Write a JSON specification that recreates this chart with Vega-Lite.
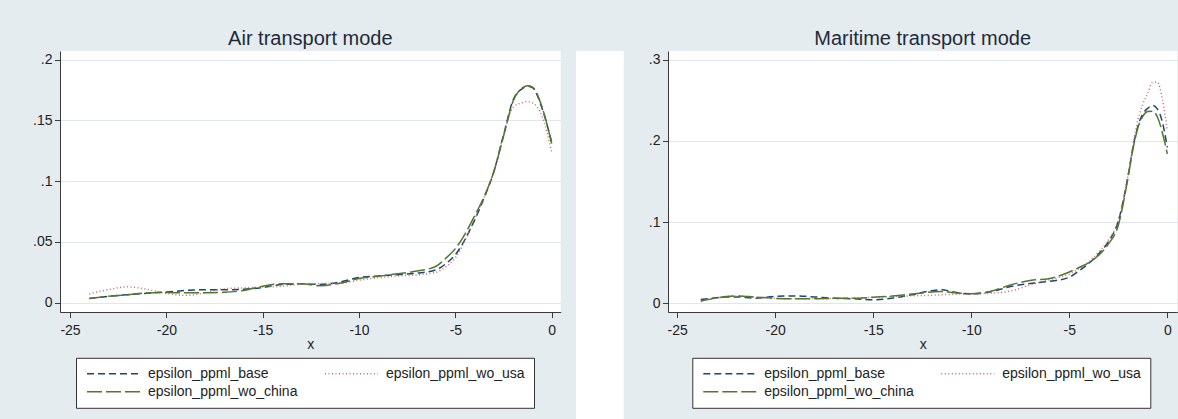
{
  "$schema": "https://vega.github.io/schema/vega-lite/v6.json",
  "background": "#E5ECF0",
  "padding": 0,
  "spacing": 0,
  "datasets": {
    "air": [
      {"x": -24, "epsilon_ppml_base": 0.0035, "epsilon_ppml_wo_usa": 0.0072, "epsilon_ppml_wo_china": 0.0035},
      {"x": -23, "epsilon_ppml_base": 0.0052, "epsilon_ppml_wo_usa": 0.0108, "epsilon_ppml_wo_china": 0.0052},
      {"x": -22, "epsilon_ppml_base": 0.0066, "epsilon_ppml_wo_usa": 0.0130, "epsilon_ppml_wo_china": 0.0066},
      {"x": -21, "epsilon_ppml_base": 0.0078, "epsilon_ppml_wo_usa": 0.0110, "epsilon_ppml_wo_china": 0.0080},
      {"x": -20, "epsilon_ppml_base": 0.0088, "epsilon_ppml_wo_usa": 0.0075, "epsilon_ppml_wo_china": 0.0083},
      {"x": -19, "epsilon_ppml_base": 0.0100, "epsilon_ppml_wo_usa": 0.0060, "epsilon_ppml_wo_china": 0.0082},
      {"x": -18, "epsilon_ppml_base": 0.0107, "epsilon_ppml_wo_usa": 0.0080, "epsilon_ppml_wo_china": 0.0082},
      {"x": -17, "epsilon_ppml_base": 0.0106, "epsilon_ppml_wo_usa": 0.0115, "epsilon_ppml_wo_china": 0.0085},
      {"x": -16, "epsilon_ppml_base": 0.0110, "epsilon_ppml_wo_usa": 0.0122, "epsilon_ppml_wo_china": 0.0100},
      {"x": -15, "epsilon_ppml_base": 0.0125, "epsilon_ppml_wo_usa": 0.0128, "epsilon_ppml_wo_china": 0.0135},
      {"x": -14, "epsilon_ppml_base": 0.0150, "epsilon_ppml_wo_usa": 0.0135, "epsilon_ppml_wo_china": 0.0155},
      {"x": -13, "epsilon_ppml_base": 0.0155, "epsilon_ppml_wo_usa": 0.0152, "epsilon_ppml_wo_china": 0.0155},
      {"x": -12, "epsilon_ppml_base": 0.0150, "epsilon_ppml_wo_usa": 0.0157, "epsilon_ppml_wo_china": 0.0140},
      {"x": -11, "epsilon_ppml_base": 0.0170, "epsilon_ppml_wo_usa": 0.0160, "epsilon_ppml_wo_china": 0.0160},
      {"x": -10, "epsilon_ppml_base": 0.0207, "epsilon_ppml_wo_usa": 0.0185, "epsilon_ppml_wo_china": 0.0198},
      {"x": -9, "epsilon_ppml_base": 0.0220, "epsilon_ppml_wo_usa": 0.0205, "epsilon_ppml_wo_china": 0.0217},
      {"x": -8, "epsilon_ppml_base": 0.0230, "epsilon_ppml_wo_usa": 0.0220, "epsilon_ppml_wo_china": 0.0238},
      {"x": -7, "epsilon_ppml_base": 0.0243, "epsilon_ppml_wo_usa": 0.0228, "epsilon_ppml_wo_china": 0.0260},
      {"x": -6, "epsilon_ppml_base": 0.0270, "epsilon_ppml_wo_usa": 0.0250, "epsilon_ppml_wo_china": 0.0300},
      {"x": -5.5, "epsilon_ppml_base": 0.0320, "epsilon_ppml_wo_usa": 0.0295, "epsilon_ppml_wo_china": 0.0365},
      {"x": -5, "epsilon_ppml_base": 0.0395, "epsilon_ppml_wo_usa": 0.0370, "epsilon_ppml_wo_china": 0.0445},
      {"x": -4.5, "epsilon_ppml_base": 0.0520, "epsilon_ppml_wo_usa": 0.0510, "epsilon_ppml_wo_china": 0.0565},
      {"x": -4, "epsilon_ppml_base": 0.0680, "epsilon_ppml_wo_usa": 0.0690, "epsilon_ppml_wo_china": 0.0715},
      {"x": -3.5, "epsilon_ppml_base": 0.0865, "epsilon_ppml_wo_usa": 0.0870, "epsilon_ppml_wo_china": 0.0875},
      {"x": -3, "epsilon_ppml_base": 0.1080, "epsilon_ppml_wo_usa": 0.1085, "epsilon_ppml_wo_china": 0.1080},
      {"x": -2.5, "epsilon_ppml_base": 0.1380, "epsilon_ppml_wo_usa": 0.1380, "epsilon_ppml_wo_china": 0.1370},
      {"x": -2, "epsilon_ppml_base": 0.1670, "epsilon_ppml_wo_usa": 0.1610, "epsilon_ppml_wo_china": 0.1660},
      {"x": -1.5, "epsilon_ppml_base": 0.1765, "epsilon_ppml_wo_usa": 0.1648, "epsilon_ppml_wo_china": 0.1770},
      {"x": -1.25, "epsilon_ppml_base": 0.1782, "epsilon_ppml_wo_usa": 0.1655, "epsilon_ppml_wo_china": 0.1785},
      {"x": -1, "epsilon_ppml_base": 0.1770, "epsilon_ppml_wo_usa": 0.1645, "epsilon_ppml_wo_china": 0.1775},
      {"x": -0.5, "epsilon_ppml_base": 0.1600, "epsilon_ppml_wo_usa": 0.1535, "epsilon_ppml_wo_china": 0.1610},
      {"x": 0, "epsilon_ppml_base": 0.1320, "epsilon_ppml_wo_usa": 0.1240, "epsilon_ppml_wo_china": 0.1310}
    ],
    "sea": [
      {"x": -23.8, "epsilon_ppml_base": 0.0046, "epsilon_ppml_wo_usa": 0.0030, "epsilon_ppml_wo_china": 0.0025},
      {"x": -23, "epsilon_ppml_base": 0.0068, "epsilon_ppml_wo_usa": 0.0065, "epsilon_ppml_wo_china": 0.0065},
      {"x": -22.5, "epsilon_ppml_base": 0.0078, "epsilon_ppml_wo_usa": 0.0082, "epsilon_ppml_wo_china": 0.0082},
      {"x": -22, "epsilon_ppml_base": 0.0078, "epsilon_ppml_wo_usa": 0.0090, "epsilon_ppml_wo_china": 0.0090},
      {"x": -21, "epsilon_ppml_base": 0.0062, "epsilon_ppml_wo_usa": 0.0075, "epsilon_ppml_wo_china": 0.0076},
      {"x": -20, "epsilon_ppml_base": 0.0084, "epsilon_ppml_wo_usa": 0.0060, "epsilon_ppml_wo_china": 0.0060},
      {"x": -19, "epsilon_ppml_base": 0.0090, "epsilon_ppml_wo_usa": 0.0054, "epsilon_ppml_wo_china": 0.0054},
      {"x": -18, "epsilon_ppml_base": 0.0078, "epsilon_ppml_wo_usa": 0.0055, "epsilon_ppml_wo_china": 0.0055},
      {"x": -17, "epsilon_ppml_base": 0.0060, "epsilon_ppml_wo_usa": 0.0058, "epsilon_ppml_wo_china": 0.0060},
      {"x": -16, "epsilon_ppml_base": 0.0055, "epsilon_ppml_wo_usa": 0.0062, "epsilon_ppml_wo_china": 0.0060},
      {"x": -15, "epsilon_ppml_base": 0.0042, "epsilon_ppml_wo_usa": 0.0072, "epsilon_ppml_wo_china": 0.0075},
      {"x": -14, "epsilon_ppml_base": 0.0064, "epsilon_ppml_wo_usa": 0.0082, "epsilon_ppml_wo_china": 0.0090},
      {"x": -13, "epsilon_ppml_base": 0.0105, "epsilon_ppml_wo_usa": 0.0092, "epsilon_ppml_wo_china": 0.0115},
      {"x": -12, "epsilon_ppml_base": 0.0155, "epsilon_ppml_wo_usa": 0.0098, "epsilon_ppml_wo_china": 0.0138},
      {"x": -11.5, "epsilon_ppml_base": 0.0165, "epsilon_ppml_wo_usa": 0.0104, "epsilon_ppml_wo_china": 0.0145},
      {"x": -11, "epsilon_ppml_base": 0.0142, "epsilon_ppml_wo_usa": 0.0110, "epsilon_ppml_wo_china": 0.0132},
      {"x": -10, "epsilon_ppml_base": 0.0115, "epsilon_ppml_wo_usa": 0.0115, "epsilon_ppml_wo_china": 0.0118},
      {"x": -9, "epsilon_ppml_base": 0.0142, "epsilon_ppml_wo_usa": 0.0122, "epsilon_ppml_wo_china": 0.0148},
      {"x": -8, "epsilon_ppml_base": 0.0205, "epsilon_ppml_wo_usa": 0.0150, "epsilon_ppml_wo_china": 0.0225},
      {"x": -7, "epsilon_ppml_base": 0.0243, "epsilon_ppml_wo_usa": 0.0225, "epsilon_ppml_wo_china": 0.0280},
      {"x": -6, "epsilon_ppml_base": 0.0270, "epsilon_ppml_wo_usa": 0.0290, "epsilon_ppml_wo_china": 0.0305},
      {"x": -5, "epsilon_ppml_base": 0.0320, "epsilon_ppml_wo_usa": 0.0360, "epsilon_ppml_wo_china": 0.0385},
      {"x": -4.5, "epsilon_ppml_base": 0.0400, "epsilon_ppml_wo_usa": 0.0425, "epsilon_ppml_wo_china": 0.0440},
      {"x": -4, "epsilon_ppml_base": 0.0490, "epsilon_ppml_wo_usa": 0.0510, "epsilon_ppml_wo_china": 0.0500},
      {"x": -3.5, "epsilon_ppml_base": 0.0610, "epsilon_ppml_wo_usa": 0.0630, "epsilon_ppml_wo_china": 0.0590},
      {"x": -3, "epsilon_ppml_base": 0.0760, "epsilon_ppml_wo_usa": 0.0780, "epsilon_ppml_wo_china": 0.0730},
      {"x": -2.5, "epsilon_ppml_base": 0.1010, "epsilon_ppml_wo_usa": 0.1020, "epsilon_ppml_wo_china": 0.0960},
      {"x": -2, "epsilon_ppml_base": 0.1570, "epsilon_ppml_wo_usa": 0.1580, "epsilon_ppml_wo_china": 0.1550},
      {"x": -1.75, "epsilon_ppml_base": 0.1920, "epsilon_ppml_wo_usa": 0.1950, "epsilon_ppml_wo_china": 0.1900},
      {"x": -1.5, "epsilon_ppml_base": 0.2180, "epsilon_ppml_wo_usa": 0.2260, "epsilon_ppml_wo_china": 0.2160},
      {"x": -1.25, "epsilon_ppml_base": 0.2330, "epsilon_ppml_wo_usa": 0.2450, "epsilon_ppml_wo_china": 0.2300},
      {"x": -1, "epsilon_ppml_base": 0.2400, "epsilon_ppml_wo_usa": 0.2580, "epsilon_ppml_wo_china": 0.2360},
      {"x": -0.75, "epsilon_ppml_base": 0.2435, "epsilon_ppml_wo_usa": 0.2720, "epsilon_ppml_wo_china": 0.2365},
      {"x": -0.5, "epsilon_ppml_base": 0.2390, "epsilon_ppml_wo_usa": 0.2720, "epsilon_ppml_wo_china": 0.2290},
      {"x": -0.25, "epsilon_ppml_base": 0.2230, "epsilon_ppml_wo_usa": 0.2510, "epsilon_ppml_wo_china": 0.2100},
      {"x": 0, "epsilon_ppml_base": 0.1920, "epsilon_ppml_wo_usa": 0.2130, "epsilon_ppml_wo_china": 0.1840}
    ]
  },
  "vconcat": [
    {
      "width": 1178, "height": 10,
      "data": {"values": [{}]},
      "mark": {"type": "point", "opacity": 0},
      "encoding": {}
    },
    {
      "spacing": 0,
      "resolve": {"scale": {"color": "independent", "strokeDash": "independent"}, "legend": {"color": "independent", "strokeDash": "independent"}},
      "hconcat": [
        {
          "width": 7, "height": 409,
          "data": {"values": [{}]},
          "mark": {"type": "point", "opacity": 0},
          "encoding": {}
        },
        {
          "width": 500.7, "height": 261,
          "data": {"name": "air"},
          "transform": [{"fold": ["epsilon_ppml_base", "epsilon_ppml_wo_usa", "epsilon_ppml_wo_china"], "as": ["series", "y"]}],
          "title": {"text": ["", "Air transport mode"], "fontSize": 20, "font": "Liberation Sans", "fontWeight": "normal", "color": "#1F2A3A", "lineHeight": 18, "offset": 2.5, "anchor": "middle", "frame": "group"},
          "mark": {"type": "line", "strokeWidth": 1.5, "interpolate": "monotone"},
          "encoding": {
            "x": {"field": "x", "type": "quantitative", "scale": {"domain": [-25.52, 0.467], "nice": false, "zero": false},
                  "axis": {"values": [-25, -20, -15, -10, -5, 0], "labelExpr": "toString(datum.value)", "title": "x", "grid": false}},
            "y": {"field": "y", "type": "quantitative", "scale": {"domain": [-0.0077, 0.2072], "nice": false, "zero": false},
                  "axis": {"values": [0, 0.05, 0.1, 0.15, 0.2], "labelExpr": "datum.value == 0 ? '0' : replace(toString(datum.value), '0.', '.')", "title": null, "minExtent": 53, "maxExtent": 53}},
            "color": {"field": "series", "type": "nominal",
                      "scale": {"domain": ["epsilon_ppml_base", "epsilon_ppml_wo_usa", "epsilon_ppml_wo_china"], "range": ["#1A476F", "#C46A72", "#55752F"]},
                      "legend": {"orient": "none", "legendX": 16, "legendY": 306.8, "title": null, "columns": 2, "direction": "horizontal"}},
            "strokeDash": {"field": "series", "type": "nominal",
                      "scale": {"domain": ["epsilon_ppml_base", "epsilon_ppml_wo_usa", "epsilon_ppml_wo_china"], "range": [[7, 4], [1, 2.5], [15, 4]]},
                      "legend": {"orient": "none", "legendX": 16, "legendY": 306.8, "title": null, "columns": 2, "direction": "horizontal"}}
          }
        },
        {
          "width": 47.7, "height": 409,
          "data": {"values": [{"v": 0}]},
          "mark": {"type": "point", "opacity": 0},
          "encoding": {
            "y": {"field": "v", "type": "quantitative", "axis": {"labels": false, "ticks": false, "domain": false, "grid": false, "title": null, "minExtent": 14.3, "maxExtent": 14.3}}
          }
        },
        {
          "width": 509.3, "height": 261,
          "data": {"name": "sea"},
          "transform": [{"fold": ["epsilon_ppml_base", "epsilon_ppml_wo_usa", "epsilon_ppml_wo_china"], "as": ["series", "y"]}],
          "title": {"text": ["", "Maritime transport mode"], "fontSize": 20, "font": "Liberation Sans", "fontWeight": "normal", "color": "#1F2A3A", "lineHeight": 18, "offset": 2.5, "anchor": "middle", "frame": "group"},
          "mark": {"type": "line", "strokeWidth": 1.5, "interpolate": "monotone"},
          "encoding": {
            "x": {"field": "x", "type": "quantitative", "scale": {"domain": [-25.47, 0.51], "nice": false, "zero": false},
                  "axis": {"values": [-25, -20, -15, -10, -5, 0], "labelExpr": "toString(datum.value)", "title": "x", "grid": false}},
            "y": {"field": "y", "type": "quantitative", "scale": {"domain": [-0.0108, 0.3106], "nice": false, "zero": false},
                  "axis": {"values": [0, 0.1, 0.2, 0.3], "labelExpr": "datum.value == 0 ? '0' : replace(toString(datum.value), '0.', '.')", "title": null, "minExtent": 44, "maxExtent": 44}},
            "color": {"field": "series", "type": "nominal",
                      "scale": {"domain": ["epsilon_ppml_base", "epsilon_ppml_wo_usa", "epsilon_ppml_wo_china"], "range": ["#1A476F", "#C46A72", "#55752F"]},
                      "legend": {"orient": "none", "legendX": 24.3, "legendY": 306.8, "title": null, "columns": 2, "direction": "horizontal"}},
            "strokeDash": {"field": "series", "type": "nominal",
                      "scale": {"domain": ["epsilon_ppml_base", "epsilon_ppml_wo_usa", "epsilon_ppml_wo_china"], "range": [[7, 4], [1, 2.5], [15, 4]]},
                      "legend": {"orient": "none", "legendX": 24.3, "legendY": 306.8, "title": null, "columns": 2, "direction": "horizontal"}}
          }
        }
      ]
    }
  ],
  "config": {
    "view": {"fill": "white", "stroke": null},
    "concat": {"spacing": 0},
    "axis": {
      "labelFont": "Liberation Sans", "labelFontSize": 14, "labelColor": "#222222",
      "titleFont": "Liberation Sans", "titleFontSize": 14, "titleFontWeight": "normal", "titleColor": "#222222",
      "domainColor": "#3A3A3A", "domainWidth": 1, "tickColor": "#3A3A3A", "tickWidth": 1, "tickSize": 5.5,
      "gridColor": "#E0E8EE", "gridWidth": 1, "labelFlush": false, "labelOverlap": false
    },
    "axisX": {"labelPadding": 5.5, "titlePadding": 0},
    "axisY": {"labelPadding": 2.5, "grid": true},
    "legend": {
      "fillColor": "white", "strokeColor": "#333333", "padding": 9, "columnPadding": 24, "rowPadding": 4,
      "symbolType": "M-1,0H9.6", "symbolSize": 100, "symbolStrokeWidth": 1.5,
      "labelFont": "Liberation Sans", "labelFontSize": 14, "labelColor": "#222222", "labelOffset": 49, "labelLimit": 300
    }
  }
}
